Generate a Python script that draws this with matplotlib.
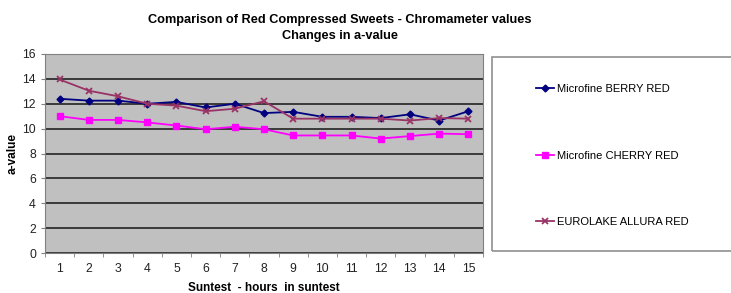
import matplotlib
matplotlib.use("Agg")
import matplotlib.pyplot as plt
from matplotlib.patches import Rectangle

plt.rcParams['font.family'] = ['Liberation Sans', 'DejaVu Sans']

hours = list(range(1, 16))
berry_red = [12.4, 12.25, 12.25, 12.0, 12.15, 11.7, 12.0, 11.25, 11.35, 10.95, 10.95, 10.85, 11.15, 10.65, 11.4]
cherry_red = [11.0, 10.7, 10.7, 10.5, 10.25, 9.95, 10.15, 9.95, 9.45, 9.45, 9.45, 9.2, 9.4, 9.6, 9.55]
allura_red = [13.95, 13.05, 12.6, 12.0, 11.85, 11.4, 11.6, 12.2, 10.8, 10.8, 10.8, 10.8, 10.65, 10.85, 10.8]

W, H = 731, 293
fig = plt.figure(figsize=(W / 100, H / 100), dpi=100)

# plot area in pixel coords
left, right, top, bottom = 45, 483, 54, 253
ax = fig.add_axes([left / W, 1 - bottom / H, (right - left) / W, (bottom - top) / H])
ax.set_facecolor('#c0c0c0')

ax.plot(hours, berry_red, color='#000080', marker='D', markersize=3.5, lw=1.3,
        label='Microfine BERRY RED')
ax.plot(hours, cherry_red, color='#ff00ff', marker='s', markersize=5, lw=1.3,
        label='Microfine CHERRY RED')
ax.plot(hours, allura_red, color='#993366', marker='x', markersize=4, mew=1.3, lw=1.3,
        label='EUROLAKE ALLURA RED')

ax.set_xlim(0.5, 15.5)
ax.set_ylim(0, 16)
ax.set_yticks(range(0, 17, 2))
ax.yaxis.grid(True, color='#3a3a3a', lw=1.4)
ax.set_axisbelow(True)

# category axis: labels at centres, ticks between categories
ax.set_xticks(hours)
ax.set_xticklabels([str(h) for h in hours])
ax.tick_params(axis='x', length=0, labelsize=8.8, pad=7, colors='#222222')
ax.set_xticks([h + 0.5 for h in range(0, 16)], minor=True)
ax.tick_params(axis='x', which='minor', length=3, color='#808080')
ax.tick_params(axis='y', length=3, labelsize=8.8, colors='#222222', color='#808080')

for s in ax.spines.values():
    s.set_color('#808080')

ax.set_xlabel('Suntest  - hours  in suntest', fontsize=8.5, fontweight='bold', labelpad=5)
ax.set_ylabel('a-value', fontsize=8.5, fontweight='bold', labelpad=3)

fig.text(340 / W, 1 - 14 / H, 'Comparison of Red Compressed Sweets - Chromameter values\nChanges in a-value',
         ha='center', va='top', fontsize=9.2, fontweight='bold', linespacing=1.5)

# legend box
fig.patches.append(Rectangle((492 / W, 1 - 251 / H), (745 - 492) / W, (251 - 57) / H,
                             transform=fig.transFigure, fill=False, edgecolor='#909090', lw=1.2))
handles, labels = ax.get_legend_handles_labels()
fig.legend(handles, labels, loc='upper left', bbox_to_anchor=(536 / W, 1 - 84 / H),
           frameon=False, fontsize=8, labelspacing=5.1, handlelength=1.6, handletextpad=0.3,
           borderpad=0, borderaxespad=0)

fig.savefig('out.png', dpi=100, facecolor='white')
